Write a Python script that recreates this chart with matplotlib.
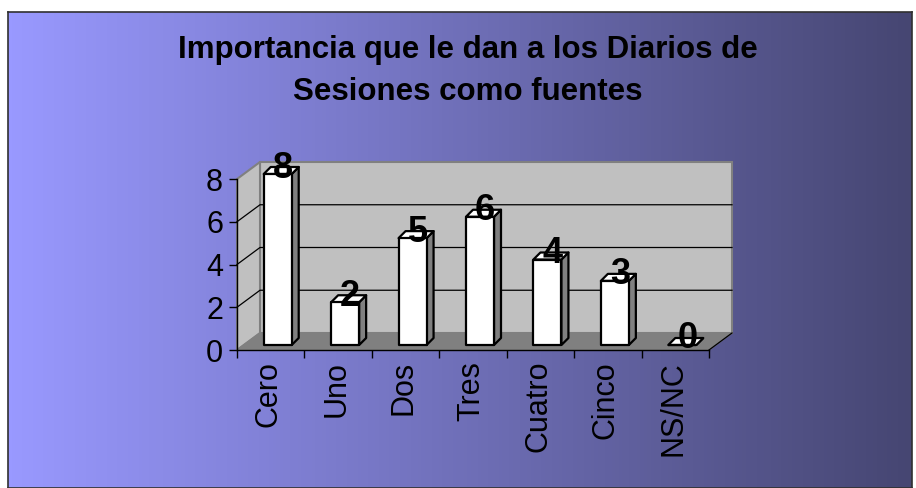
import numpy as np
import matplotlib
matplotlib.use('Agg')
import matplotlib.pyplot as plt
from matplotlib.patches import Polygon, Rectangle

# Data
categorias = ['Cero', 'Uno', 'Dos', 'Tres', 'Cuatro', 'Cinco', 'NS/NC']
valores = [8, 2, 5, 6, 4, 3, 0]
ticks_y = [0, 2, 4, 6, 8]
titulo = 'Importancia que le dan a los Diarios de\nSesiones como fuentes'

W, H = 916, 488
fig = plt.figure(figsize=(W / 100, H / 100), dpi=100)
fig.patch.set_facecolor('white')
plt.rcParams['font.family'] = ['Liberation Sans', 'DejaVu Sans']

# gradient background panel with frame
bg = fig.add_axes([8 / W, 0, (912 - 8) / W, (H - 12) / H])
left_c = np.array([153, 153, 255]) / 255
right_c = np.array([70, 70, 114]) / 255
t = np.linspace(0, 1, 256)
grad = left_c[None, :] * (1 - t[:, None]) + right_c[None, :] * t[:, None]
bg.imshow(grad[None, :, :], aspect='auto', extent=[0, 1, 0, 1])
bg.set_xticks([])
bg.set_yticks([])
for s in bg.spines.values():
    s.set_color('#303030')
    s.set_linewidth(1.2)

# plot area (front plane of the 3D box)
x0, x1 = 237, 709
y0, y1 = 350, 179
ax = fig.add_axes([x0 / W, (H - y0) / H, (x1 - x0) / W, (y0 - y1) / H])
ax.set_xlim(-0.5, len(categorias) - 0.5)
ax.set_ylim(0, 8)
ax.patch.set_alpha(0)

ux = (x1 - x0) / len(categorias)   # pixels per category
uy = (y0 - y1) / 8                 # pixels per unit
DX, DY = 23 / ux, 17 / uy          # depth of the box
FX, FY = 7 / ux, 5 / uy            # bar front offset
BX, BY = 7 / ux, 7 / uy            # bar depth
bw = 28 / ux                       # bar width

xl, xr = -0.5, len(categorias) - 0.5
# back wall
ax.add_patch(Rectangle((xl + DX, DY), xr - xl, 8, facecolor='#C0C0C0',
                       edgecolor='#808080', lw=1.5, clip_on=False, zorder=1))
# left wall
ax.add_patch(Polygon([(xl, 0), (xl, 8), (xl + DX, 8 + DY), (xl + DX, DY)],
                     closed=True, facecolor='#C0C0C0', edgecolor='#808080',
                     lw=1.5, clip_on=False, zorder=1))
# grid lines on walls
for yv in ticks_y[1:-1]:
    ax.plot([xl, xl + DX, xr + DX], [yv, yv + DY, yv + DY], color='black',
            lw=0.9, clip_on=False, zorder=2)
# floor
ax.add_patch(Polygon([(xl, 0), (xr, 0), (xr + DX, DY), (xl + DX, DY)],
                     closed=True, facecolor='#808080', edgecolor='#808080',
                     lw=1, clip_on=False, zorder=3))
ax.plot([xr, xr + DX], [0, DY], color='black', lw=0.9, clip_on=False, zorder=3)

# bars
for i, v in enumerate(valores):
    l = i - bw / 2 + FX
    r = i + bw / 2 + FX
    kw = dict(closed=True, edgecolor='black', lw=1.6, joinstyle='round',
              clip_on=False, zorder=5)
    ax.add_patch(Polygon([(r, FY), (r, v + FY), (r + BX, v + FY + BY), (r + BX, FY + BY)],
                         facecolor='#808080', **kw))
    ax.add_patch(Polygon([(l, v + FY), (r, v + FY), (r + BX, v + FY + BY), (l + BX, v + FY + BY)],
                         facecolor='white', **kw))
    ax.add_patch(Polygon([(l, FY), (r, FY), (r, v + FY), (l, v + FY)],
                         facecolor='white', **kw))
    ax.text(i + FX + 5 / ux, v + FY + 6 / uy, str(v), ha='center', va='center',
            fontsize=26, fontweight='bold', color='black', zorder=6, clip_on=False)

# axes
for s in ['top', 'right']:
    ax.spines[s].set_visible(False)
ax.spines['left'].set_linewidth(1)
ax.spines['bottom'].set_linewidth(1)
ax.spines['left'].set_zorder(4)
ax.spines['bottom'].set_zorder(4)
ax.set_yticks(ticks_y)
ax.set_yticklabels([str(v) for v in ticks_y], fontsize=22)
ax.set_xticks(np.arange(-0.5, len(categorias), 1.0))
ax.set_xticklabels([])
ax.tick_params(axis='y', length=6, width=1, pad=4)
ax.tick_params(axis='x', length=6, width=1)
for i, c in enumerate(categorias):
    ax.text(i - 2 / ux, -11 / uy, c, rotation=90, ha='center', va='top',
            fontsize=22, clip_on=False)

fig.text(468 / W, 1 - 71 / H, titulo, ha='center', va='center', fontsize=22.5,
         fontweight='bold', linespacing=1.55)

fig.savefig('out.png', dpi=100)
